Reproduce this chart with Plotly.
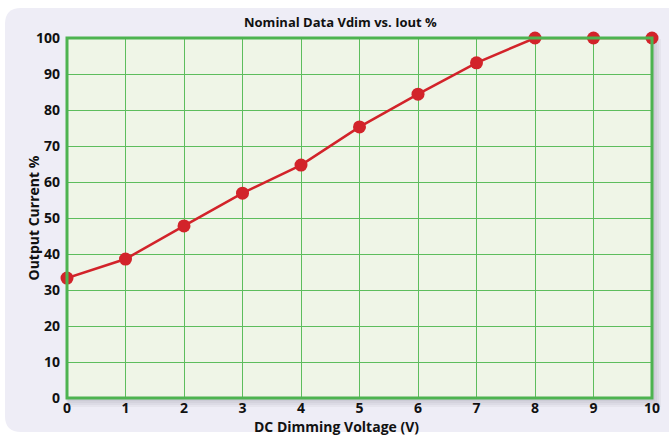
import plotly.graph_objects as go

voltage = [0, 1, 2, 3, 4, 5, 6, 7, 8, 9, 10]
current_pct = [33.3, 38.6, 47.8, 56.9, 64.7, 75.3, 84.4, 93.1, 100, 100, 100]
x_ticks = list(range(0, 11))
y_ticks = list(range(0, 101, 10))

W, H = 669, 435
ML, MR, MT, MB = 67, 17, 38, 37
PW, PH = W - ML - MR, H - MT - MB

def px(x):
    return (x - ML) / PW

def py(y):
    return (H - MB - y) / PH

# rounded background panel
x0, x1, y0, y1, r = 5, 690, 8, 432, 16
path = (f"M {px(x0 + r)},{py(y0)} L {px(x1 - r)},{py(y0)} "
        f"Q {px(x1)},{py(y0)} {px(x1)},{py(y0 + r)} L {px(x1)},{py(y1 - r)} "
        f"Q {px(x1)},{py(y1)} {px(x1 - r)},{py(y1)} L {px(x0 + r)},{py(y1)} "
        f"Q {px(x0)},{py(y1)} {px(x0)},{py(y1 - r)} L {px(x0)},{py(y0 + r)} "
        f"Q {px(x0)},{py(y0)} {px(x0 + r)},{py(y0)} Z")

shapes = [dict(type="path", path=path, xref="paper", yref="paper",
               fillcolor="#eeedf6", line=dict(width=0), layer="below")]
# soft drop shadow around the plot area
for d in (9, 7, 5, 3):
    shapes.append(dict(type="rect", xref="paper", yref="paper",
                       x0=px(ML - 2 + d / 3), x1=px(W - MR + d),
                       y0=py(H - MB + d), y1=py(MT - 2 + d / 3),
                       fillcolor="rgba(90,90,110,0.06)", line=dict(width=0),
                       layer="below"))
# plot area fill (drawn over the shadow)
shapes.append(dict(type="rect", xref="paper", yref="paper", x0=0, x1=1, y0=0, y1=1,
                   fillcolor="#eff5e7", line=dict(width=0), layer="below"))
shapes.append(dict(type="rect", xref="paper", yref="paper", x0=0, x1=1, y0=0, y1=1,
                   line=dict(color="#4db350", width=3), layer="above"))

fig = go.Figure()
fig.add_trace(go.Scatter(
    x=voltage, y=current_pct, mode="lines+markers",
    line=dict(color="#d2232a", width=2.5),
    marker=dict(color="#d2232a", size=13),
    cliponaxis=False, showlegend=False, hoverinfo="skip",
))

font = "Open Sans"
fig.update_layout(
    width=W, height=H,
    margin=dict(l=ML, r=MR, t=MT, b=MB, autoexpand=False),
    paper_bgcolor="white",
    plot_bgcolor="#eff5e7",
    shapes=shapes,
    annotations=[
        dict(text="<b>Nominal Data Vdim vs. Iout %</b>", xref="paper", yref="paper",
             x=px(340), y=py(22), showarrow=False, yanchor="middle",
             font=dict(family=font, size=13, color="#111")),
        dict(text="<b>DC Dimming Voltage (V)</b>", xref="paper", yref="paper",
             x=px(336), y=py(426.5), showarrow=False, yanchor="middle",
             font=dict(family=font, size=14, color="#111")),
        dict(text="<b>Output Current %</b>", xref="paper", yref="paper",
             x=px(21), y=py(218), showarrow=False, textangle=-90,
             font=dict(family=font, size=14, color="#111")),
    ],
    xaxis=dict(
        range=[0, 10], tickvals=x_ticks, ticktext=[str(v) for v in x_ticks],
        showgrid=True, gridcolor="#5dbd5d", gridwidth=1.3,
        zeroline=False, showline=False, ticks="", ticklen=0,
        tickfont=dict(family=font, size=14, color="#111", weight="bold"),
    ),
    yaxis=dict(
        range=[0, 100], tickvals=y_ticks, ticktext=[str(v) for v in y_ticks],
        showgrid=True, gridcolor="#5dbd5d", gridwidth=1.3,
        zeroline=False, showline=False, ticks="", ticklen=0,
        ticklabelstandoff=6,
        tickfont=dict(family=font, size=14, color="#111", weight="bold"),
    ),
)

fig.write_html("out.html", config={"displayModeBar": False},
               post_script="document.body.style.margin='0px';")
